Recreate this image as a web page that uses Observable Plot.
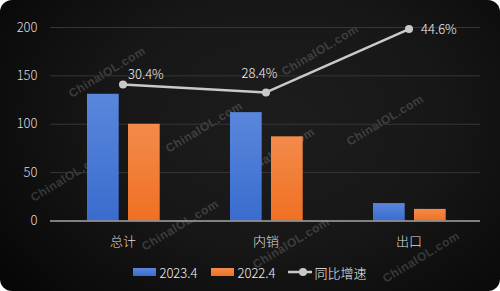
<!DOCTYPE html>
<html>
<head>
<meta charset="utf-8">
<script src="https://cdn.jsdelivr.net/npm/d3@7"></script>
<script src="https://cdn.jsdelivr.net/npm/@observablehq/plot@0.6"></script>
<style>
html, body { margin: 0; padding: 0; background: #fff; }
#card {
  position: relative; width: 500px; height: 291px; border-radius: 12px; overflow: hidden;
  background: radial-gradient(ellipse 75% 95% at 55% 42%, #1d1d1d 0%, #171717 45%, #0b0b0b 80%, #030303 100%);
  font-family: "Noto Sans CJK SC", "Noto Sans", sans-serif; font-weight: 300;
}
#chart { position: absolute; left: 0; top: 0; }
#chart svg text { font-weight: 300; }
.wm {
  position: absolute; font-family: "Liberation Sans", Arial, sans-serif; font-weight: bold;
  font-size: 12px; color: rgba(255,255,255,0.18); white-space: nowrap;
  transform: translate(-50%, -50%) rotate(-31deg); letter-spacing: 0.5px;
}
#legend {
  position: absolute; left: 0; top: 262px; width: 500px; height: 20px;
  display: flex; justify-content: center; align-items: center;
  color: #eee; font-size: 13px;
}
.item { display: flex; align-items: center; }
.sw { width: 23px; height: 8px; margin-right: 3px; }
</style>
</head>
<body>
<div id="card">
  <div id="wms"></div>
  <div id="chart"></div>
  <div id="legend"></div>
</div>
<script>
// ---- data ----
const categories = ["总计", "内销", "出口"];
const seriesNames = ["2023.4", "2022.4"];
const values2023 = [131, 112, 18];
const values2022 = [100, 87, 12];
const growthName = "同比增速";
const growthPct = [30.4, 28.4, 44.6];
const yTicks = [0, 50, 100, 150, 200];
const yDomain = [0, 200];
const rightDomain = [-4.5, 45];   // hidden secondary axis for the growth line
const watermarkText = "ChinaIOL.com";

// ---- styles ----
const blueTop = "#5a87dc", blueBottom = "#3a6ccf";
const orangeTop = "#f38b4b", orangeBottom = "#f07022";
const lineColor = "#c9c9c9";

const bars23 = categories.map((c, i) => ({cat: c, v: values2023[i]}));
const bars22 = categories.map((c, i) => ({cat: c, v: values2022[i]}));
const growth = categories.map((c, i) => ({cat: c, pct: growthPct[i]}));
const toLeft = p => (p - rightDomain[0]) / (rightDomain[1] - rightDomain[0]) * (yDomain[1] - yDomain[0]) + yDomain[0];
const label = d => d.pct.toFixed(1) + "%";

const textStyle = {fill: "#eeeeee", fontSize: 13};

const svg = Plot.plot({
  width: 500,
  height: 252,
  marginLeft: 50,
  marginRight: 20,
  marginTop: 27,
  marginBottom: 31.5,
  style: {background: "transparent", color: "#dddddd", fontSize: "13px", fontFamily: "'Noto Sans CJK SC', 'Noto Sans', sans-serif"},
  x: {type: "band", domain: categories, padding: 0, tickSize: 0, tickPadding: 16, label: null},
  y: {domain: yDomain, ticks: yTicks, tickSize: 0, tickPadding: 13, label: null},
  marks: [
    Plot.ruleY(yTicks.filter(t => t > 0), {stroke: "#363636", strokeWidth: 1}),
    Plot.barY(bars23, {x: "cat", y: "v", fill: "url(#gBlue)", insetLeft: 36, insetRight: 75.3}),
    Plot.barY(bars22, {x: "cat", y: "v", fill: "url(#gOrange)", insetLeft: 77, insetRight: 34.3}),
    Plot.ruleY([0], {stroke: "#a5a5a5", strokeWidth: 1.5}),
    Plot.line(growth, {x: "cat", y: d => toLeft(d.pct), stroke: lineColor, strokeWidth: 2.5}),
    Plot.dot(growth, {x: "cat", y: d => toLeft(d.pct), r: 4, fill: lineColor}),
    Plot.text(growth.filter(d => d.cat === categories[0]), {x: "cat", y: d => toLeft(d.pct), text: label, textAnchor: "start", dx: 5, dy: -9.5, ...textStyle}),
    Plot.text(growth.filter(d => d.cat === categories[1]), {x: "cat", y: d => toLeft(d.pct), text: label, textAnchor: "middle", dx: -6.5, dy: -19, ...textStyle}),
    Plot.text(growth.filter(d => d.cat === categories[2]), {x: "cat", y: d => toLeft(d.pct), text: label, textAnchor: "start", dx: 12, dy: 0.5, ...textStyle})
  ]
});

const defs = d3.select(svg).insert("defs", ":first-child");
function grad(id, top, bottom) {
  const g = defs.append("linearGradient").attr("id", id).attr("x1", 0).attr("y1", 0).attr("x2", 0).attr("y2", 1);
  g.append("stop").attr("offset", "0%").attr("stop-color", top);
  g.append("stop").attr("offset", "100%").attr("stop-color", bottom);
}
grad("gBlue", blueTop, blueBottom);
grad("gOrange", orangeTop, orangeBottom);

document.getElementById("chart").appendChild(svg);

// watermarks (behind the chart)
const wmCenters = [[107, 72], [204, 127], [320, 50], [385, 120], [69, 176], [180, 225], [276, 153], [291, 243], [421, 257]];
const wms = document.getElementById("wms");
wmCenters.forEach(([x, y]) => {
  const s = document.createElement("span");
  s.className = "wm"; s.textContent = watermarkText;
  s.style.left = x + "px"; s.style.top = y + "px";
  wms.appendChild(s);
});

// legend
const legend = document.getElementById("legend");
const items = [
  {name: seriesNames[0], type: "bar", color: `linear-gradient(${blueTop}, ${blueBottom})`, gap: 14},
  {name: seriesNames[1], type: "bar", color: `linear-gradient(${orangeTop}, ${orangeBottom})`, gap: 12},
  {name: growthName, type: "line", color: lineColor, gap: 0}
];
items.forEach(it => {
  const d = document.createElement("div");
  d.className = "item"; d.style.marginRight = it.gap + "px";
  if (it.type === "bar") {
    const sw = document.createElement("div"); sw.className = "sw"; sw.style.background = it.color;
    d.appendChild(sw);
  } else {
    const ns = "http://www.w3.org/2000/svg";
    const s = document.createElementNS(ns, "svg");
    s.setAttribute("width", 24); s.setAttribute("height", 10); s.style.marginRight = "3px";
    const l = document.createElementNS(ns, "line");
    l.setAttribute("x1", 0); l.setAttribute("x2", 24); l.setAttribute("y1", 5); l.setAttribute("y2", 5);
    l.setAttribute("stroke", it.color); l.setAttribute("stroke-width", 2.5);
    const c = document.createElementNS(ns, "circle");
    c.setAttribute("cx", 15); c.setAttribute("cy", 5); c.setAttribute("r", 4); c.setAttribute("fill", it.color);
    s.appendChild(l); s.appendChild(c); d.appendChild(s);
  }
  const t = document.createElement("span"); t.textContent = it.name;
  d.appendChild(t);
  legend.appendChild(d);
});
</script>
</body>
</html>
